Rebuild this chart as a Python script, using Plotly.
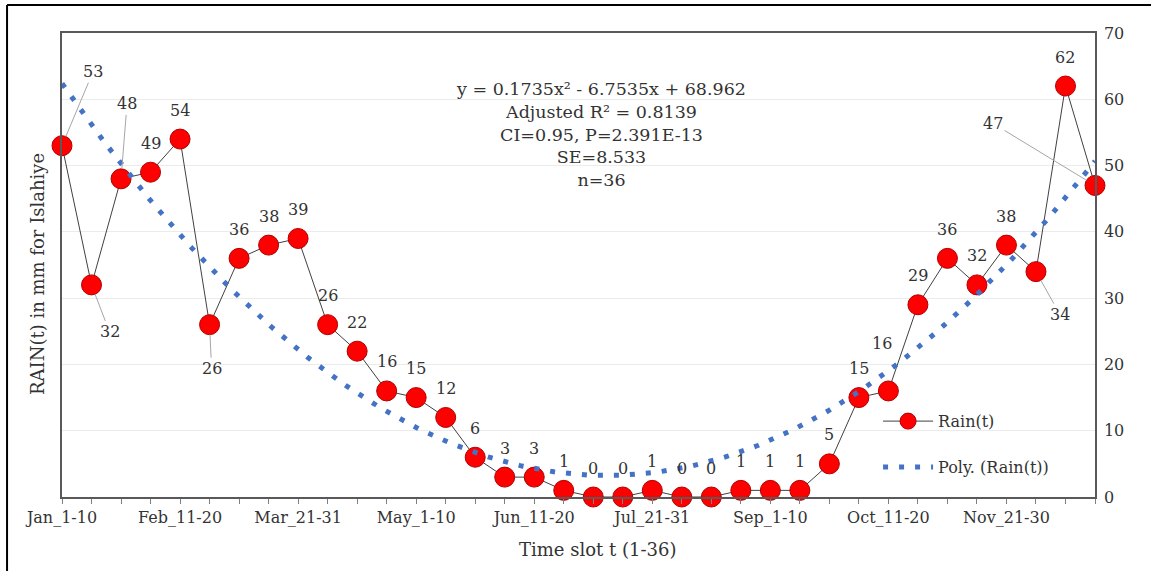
import numpy as np
import plotly.graph_objects as go

# Time slots (dekads) 1..36 and their names
months = ["Jan", "Feb", "Mar", "Apr", "May", "Jun",
          "Jul", "Aug", "Sep", "Oct", "Nov", "Dec"]
month_last = {"Feb": "28", "Apr": "30", "Jun": "30", "Sep": "30", "Nov": "30"}
slot_names = []
for m in months:
    slot_names += [f"{m}_1-10", f"{m}_11-20", f"{m}_21-{month_last.get(m, '31')}"]
t_slots = list(range(1, 37))

# Dekadal rainfall (mm) for Islahiye
rain = [53, 32, 48, 49, 54, 26, 36, 38, 39, 26, 22, 16,
        15, 12, 6, 3, 3, 1, 0, 0, 1, 0, 0, 1,
        1, 1, 5, 15, 16, 29, 36, 32, 38, 34, 62, 47]

# Second-order polynomial trend (a2, a1, a0) and fit statistics
poly_coef = [0.1735, -6.7535, 68.962]
adj_r2 = 0.8139
p_value = "2.391E-13"
se = 8.533

FONT = "DejaVu Serif"
TXT = "#333333"

fig = go.Figure()

fig.add_trace(go.Scatter(
    x=t_slots, y=rain, mode="lines+markers", name="Rain(t)",
    legendgroup="a",
    line=dict(color="#404040", width=1),
    marker=dict(size=20, color="#FF0000", line=dict(color="#B00000", width=1)),
    cliponaxis=False,
))

t_fine = np.linspace(1, 36, 400)
trend = np.polyval(poly_coef, t_fine)
fig.add_trace(go.Scatter(
    x=t_fine, y=trend, mode="lines", name="Poly. (Rain(t))",
    legendgroup="b",
    line=dict(color="#4472C4", width=5, dash="5px,11px"),
    cliponaxis=False,
))

# data labels: default sits above the marker; some use a leader line
label_offsets = {0: (31, 74, True), 1: (18, -47, True), 2: (6, 75, True),
                 5: (2, -44, True), 28: (-6, 47, False),
                 33: (24, -43, True), 35: (-102, 62, True)}
for i, (t, v) in enumerate(zip(t_slots, rain)):
    dx, dy, leader = label_offsets.get(i, (0, 29, False))
    if leader:
        fig.add_annotation(x=t, y=v, text=str(v), showarrow=True,
                           ax=dx, ay=-dy, arrowhead=0, arrowwidth=1,
                           arrowcolor="#a6a6a6", standoff=10,
                           font=dict(family=FONT, size=16, color=TXT))
    else:
        fig.add_annotation(x=t, y=v, text=str(v), showarrow=False,
                           xshift=dx, yshift=dy,
                           font=dict(family=FONT, size=16, color=TXT))

eq = (f"y = {poly_coef[0]}x² - {abs(poly_coef[1])}x + {poly_coef[2]}<br>"
      f"Adjusted R² = {adj_r2}<br>CI=0.95, P={p_value}<br>SE={se}<br>n={len(rain)}")
fig.add_annotation(xref="paper", yref="paper", x=0.522, y=0.905, xanchor="center",
                   yanchor="top", text=eq, showarrow=False, align="center",
                   font=dict(family=FONT, size=17.5, color=TXT))

fig.add_annotation(xref="paper", yref="paper", x=0.518, y=-0.114,
                   xanchor="center", yanchor="middle",
                   text="Time slot t (1-36)", showarrow=False,
                   font=dict(family=FONT, size=18, color=TXT))
fig.add_annotation(xref="paper", yref="paper", x=-0.0242, y=0.4806,
                   xanchor="center", yanchor="middle",
                   text="RAIN(t) in mm for Islahiye", textangle=-90,
                   showarrow=False, font=dict(family=FONT, size=18, color=TXT))

# outer chart frame (left and top edges)
fig.add_shape(type="line", xref="paper", yref="paper",
              x0=-0.0532, x1=-0.0532, y0=-0.3, y1=1.0603,
              line=dict(color="black", width=2))
fig.add_shape(type="line", xref="paper", yref="paper",
              x0=-0.0532, x1=1.2, y0=1.0603, y1=1.0603,
              line=dict(color="black", width=2))

tick_text = [n if i % 4 == 0 else "" for i, n in enumerate(slot_names)]

fig.update_layout(
    width=1151, height=571,
    margin=dict(l=62, r=56, t=33, b=74),
    paper_bgcolor="white", plot_bgcolor="white",
    font=dict(family=FONT, size=16, color=TXT),
    showlegend=True,
    legend=dict(x=0.79, y=0.2, xanchor="left", yanchor="top",
                bgcolor="rgba(255,255,255,0)", itemwidth=50,
                tracegroupgap=22, traceorder="grouped",
                font=dict(family=FONT, size=16, color=TXT)),
    xaxis=dict(range=[1, 36], tickmode="array", tickvals=t_slots,
               ticktext=tick_text, ticks="outside", ticklen=5,
               tickcolor="#808080", showgrid=False, zeroline=False,
               showline=True, mirror=True, linecolor="#595959", linewidth=1.5,
               tickfont=dict(family=FONT, size=16, color=TXT)),
    yaxis=dict(range=[0, 70], dtick=10, side="right", showgrid=True,
               gridcolor="#ebebeb", gridwidth=1, zeroline=False,
               showline=True, mirror=True, linecolor="#595959", linewidth=1.5,
               ticks="", ticklabelstandoff=4,
               tickfont=dict(family=FONT, size=16, color=TXT)),
)

fig.write_html("out.html")
